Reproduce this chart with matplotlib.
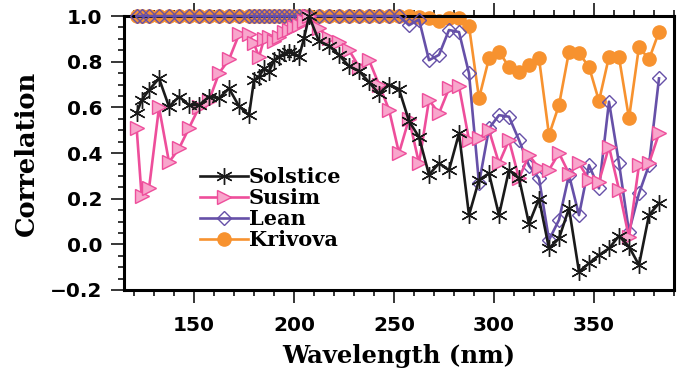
import numpy as np
import matplotlib
matplotlib.use("Agg")
import matplotlib.pyplot as plt

# wavelength grid (nm)
wavelength = [121.3, 123.8, 127.5, 132.5, 137.5, 142.5, 147.5, 152.5, 157.5, 162.5, 167.5, 172.5,
              177.5, 180.0, 182.5, 185.0, 187.5, 190.0, 192.5, 195.0, 197.5, 200.0, 202.5, 205.0, 207.5,
              212.5, 217.5, 222.5, 227.5, 232.5, 237.5, 242.5, 247.5, 252.5, 257.5, 262.5, 267.5,
              272.5, 277.5, 282.5, 287.5, 292.5, 297.5, 302.5, 307.5, 312.5, 317.5, 322.5, 327.5,
              332.5, 337.5, 342.5, 347.5, 352.5, 357.5, 362.5, 367.5, 372.5, 377.5, 382.5]

solstice = [0.574, 0.632, 0.676, 0.727, 0.603, 0.647, 0.61, 0.61, 0.647, 0.64, 0.683, 0.605,
            0.566, 0.72, 0.734, 0.771, 0.756, 0.807, 0.822, 0.837, 0.844, 0.837, 0.822, 0.902, 1.0,
            0.89, 0.87, 0.83, 0.78, 0.76, 0.71, 0.66, 0.70, 0.68, 0.54, 0.47, 0.305,
            0.355, 0.325, 0.486, 0.128, 0.282, 0.311, 0.128, 0.325, 0.29, 0.09, 0.20, -0.018,
            0.026, 0.158, -0.12, -0.083, -0.047, -0.018, 0.037, -0.01, -0.091, 0.128, 0.18]

susim = [0.51, 0.21, 0.245, 0.60, 0.36, 0.42, 0.51, 0.60, 0.63, 0.75, 0.81, 0.92,
         0.92, 0.88, 0.82, 0.90, 0.91, 0.89, 0.91, 0.93, 0.94, 0.95, 0.96, 0.98, 1.0,
         0.946, 0.902, 0.888, 0.851, 0.778, 0.807, 0.70, 0.59, 0.40, 0.55, 0.355, 0.632,
         0.574, 0.683, 0.693, 0.457, 0.464, 0.50, 0.355, 0.457, 0.289, 0.391, 0.333, 0.326,
         0.40, 0.31, 0.355, 0.282, 0.274, 0.428, 0.24, 0.03, 0.347, 0.355, 0.486]

lean = [1.0, 1.0, 1.0, 1.0, 1.0, 1.0, 1.0, 1.0, 1.0, 1.0, 1.0, 1.0,
        1.0, 1.0, 1.0, 1.0, 1.0, 1.0, 1.0, 1.0, 1.0, 1.0, 1.0, 1.0, 1.0,
        1.0, 1.0, 1.0, 1.0, 1.0, 1.0, 1.0, 1.0, 1.0, 0.96, 0.985, 0.807,
        0.83, 0.939, 0.93, 0.749, 0.267, 0.508, 0.566, 0.559, 0.457, 0.345, 0.289, 0.019,
        0.107, 0.304, 0.128, 0.347, 0.245, 0.625, 0.355, 0.055, 0.223, 0.347, 0.727]

krivova = [1.0, 1.0, 1.0, 1.0, 1.0, 1.0, 1.0, 1.0, 1.0, 1.0, 1.0, 1.0,
           1.0, 1.0, 1.0, 1.0, 1.0, 1.0, 1.0, 1.0, 1.0, 1.0, 1.0, 1.0, 1.0,
           1.0, 1.0, 1.0, 1.0, 1.0, 1.0, 1.0, 1.0, 1.0, 1.0, 0.995, 0.99,
           0.98, 0.99, 0.99, 0.956, 0.64, 0.815, 0.844, 0.778, 0.754, 0.785, 0.815, 0.479,
           0.61, 0.844, 0.837, 0.778, 0.628, 0.822, 0.82, 0.552, 0.866, 0.81, 0.931]

fig = plt.figure(figsize=(6.83, 3.74), dpi=100)
ax = fig.add_axes([0.1816, 0.2246, 0.8052, 0.7324])

lw = 1.9
# drawn back to front: Krivova at the bottom, Solstice on top
hk, = ax.plot(wavelength, krivova, color="#F7922F", lw=lw, marker="o", ms=9.5,
              mfc="#F7922F", mec="#F7922F", clip_on=False, zorder=2, label="Krivova")
hl, = ax.plot(wavelength, lean, color="#6650A8", lw=lw, marker="D", ms=7.5,
              mfc="none", mec="#6650A8", mew=1.0, clip_on=False, zorder=3, label="Lean")
hs, = ax.plot(wavelength, susim, color="#EE4E9B", lw=lw, marker=">", ms=10,
              mfc="#F8A6CC", mec="#EE4E9B", mew=1.0, clip_on=False, zorder=4, label="Susim")
ho, = ax.plot(wavelength, solstice, color="#1a1a1a", lw=lw, marker=(6, 2, 0), ms=12,
              mec="#1a1a1a", mew=1.0, clip_on=False, zorder=5, label="Solstice")

ax.set_xlim(115, 390)
ax.set_ylim(-0.2, 1.0)
ax.set_xticks([150, 200, 250, 300, 350])
ax.set_xticks(np.arange(120, 391, 10), minor=True)
ax.set_yticks([-0.2, 0.0, 0.2, 0.4, 0.6, 0.8, 1.0])
ax.set_yticks(np.arange(-0.2, 1.001, 0.05), minor=True)
ax.set_yticklabels(["\u22120.2", "0.0", "0.2", "0.4", "0.6", "0.8", "1.0"])

for s in ax.spines.values():
    s.set_linewidth(2.2)
ax.tick_params(which="both", direction="out", top=True, right=False, width=1.1)
ax.tick_params(which="major", length=9.5)
ax.tick_params(which="minor", length=4.5)
ax.tick_params(axis="x", which="major", pad=9)
ax.tick_params(axis="y", which="major", pad=6)
for lab in ax.get_xticklabels() + ax.get_yticklabels():
    lab.set_fontfamily("DejaVu Sans")
    lab.set_fontweight("bold")
    lab.set_fontsize(14.5)

ax.set_xlabel("Wavelength (nm)", fontfamily="DejaVu Serif", fontweight="bold",
              fontsize=17.5, labelpad=7)
ax.set_ylabel("Correlation", fontfamily="DejaVu Serif", fontweight="bold",
              fontsize=18.5, labelpad=8)

leg = ax.legend(handles=[ho, hs, hl, hk], loc="upper left", bbox_to_anchor=(0.138, 0.448),
                frameon=False, numpoints=1, handlelength=2.3, handletextpad=0.05,
                labelspacing=0.05, borderpad=0, borderaxespad=0,
                prop={"family": "DejaVu Serif", "weight": "bold", "size": 15})

fig.savefig("out.png", dpi=100)
